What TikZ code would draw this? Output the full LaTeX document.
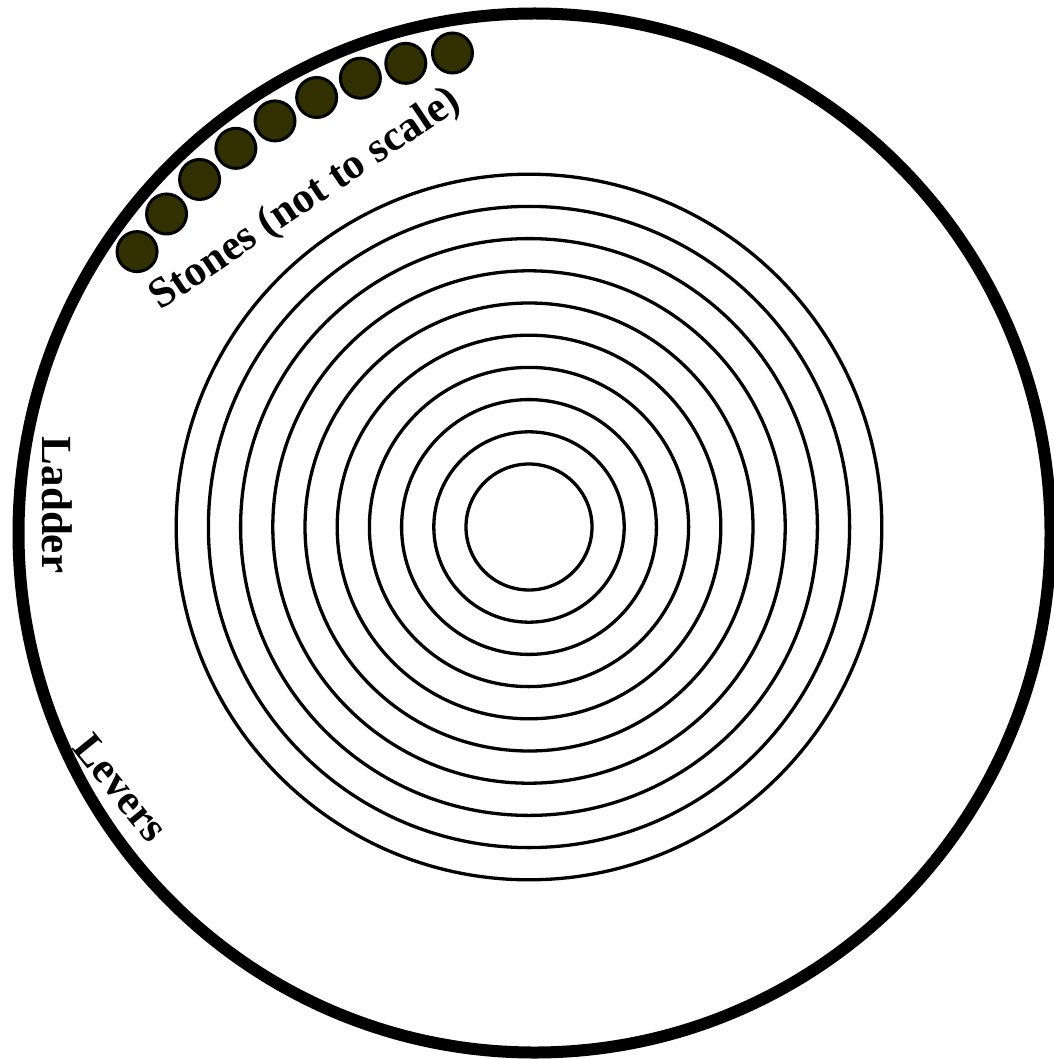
\documentclass[tikz,border=0pt]{standalone}
\usepackage{fontspec}
\setmainfont{Liberation Serif}
\definecolor{stonecol}{RGB}{51,48,0}
\begin{document}
\begin{tikzpicture}[x=1pt,y=-1pt,
  ring/.style={draw=black,line width=3.3pt},
  rim/.style={draw=black,line width=12pt},
  stone/.style={circle,draw=black,line width=3pt,fill=stonecol,minimum size=40pt,inner sep=0pt},
  lbl/.style={font=\bfseries\fontsize{43}{47}\selectfont,inner sep=0pt}]
\useasboundingbox (0,0) rectangle (1053,1059);
\fill[white] (0,0) rectangle (1053,1059);
\draw[rim] (534.5,533) ellipse [x radius=516, y radius=519.5];
\foreach \r in {0,...,9} \draw[ring] (529,527) circle [radius={63+32.2*\r}];
\foreach \i in {0,...,8} {
  \pgfmathsetmacro{\a}{144.7-5.625*\i}
  \node[stone] (s\i) at ({534.5+487*cos(\a)},{533-487*sin(\a)}) {};
}
\node[lbl,rotate=34] (stones) at (306,200) {Stones (not to scale)};
\node[lbl,rotate=-90] (ladder) at (57,505) {Ladder};
\node[lbl,rotate=-51] (levers) at (121,788) {Levers};
\end{tikzpicture}
\end{document}
